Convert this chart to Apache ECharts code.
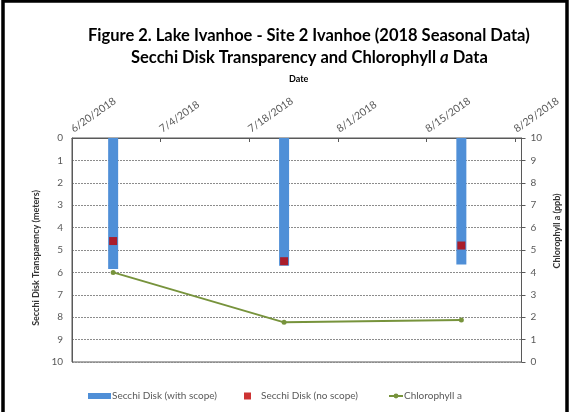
<!DOCTYPE html>
<html>
<head>
<meta charset="utf-8">
<script src="https://cdn.jsdelivr.net/npm/echarts@6/dist/echarts.min.js"></script>
<style>html,body{margin:0;padding:0;background:#fff;}#c{width:570px;height:412px;}</style>
</head>
<body>
<div id="c"></div>
<script>
// ---- data ----
var axisStart = '6/20/2018';
var tickLabels = ['6/20/2018','7/4/2018','7/18/2018','8/1/2018','8/15/2018','8/29/2018'];
var sampleDates = ['6/26/2018','7/23/2018','8/20/2018'];
var secchiWithScope = [5.85, 5.7, 5.65];
var secchiNoScope = [4.6, 5.5, 4.8];
var chlorophyll = [4.0, 1.77, 1.87];

function toUTC(s){var p=s.split('/');return Date.UTC(+p[2],+p[0]-1,+p[1]);}
var DAY=86400000;
function dayOff(s){return Math.round((toUTC(s)-toUTC(axisStart))/DAY);}
function fmt(v){var d=new Date(toUTC(axisStart)+v*DAY);return (d.getUTCMonth()+1)+'/'+d.getUTCDate()+'/'+d.getUTCFullYear();}
var tickVals = tickLabels.map(dayOff);
var xMax = tickVals[tickVals.length-1]+1;
function pts(vals){return sampleDates.map(function(d,i){return [dayOff(d)+0.5, vals[i]];});}

var gray='#595959';
var font='Lato, "Open Sans", sans-serif';
var chart = echarts.init(document.getElementById('c'), null, {renderer:'canvas'});
chart.setOption({
  animation:false,
  backgroundColor:'#fff',
  graphic:[
    {type:'rect',shape:{x:3,y:1,width:564,height:430},style:{fill:'none',stroke:'#000',lineWidth:3.5},silent:true},
    {type:'text',left:88,top:27,style:{text:'Figure 2. Lake Ivanhoe - Site 2 Ivanhoe (2018 Seasonal Data)',font:'bold 16.5px '+font,fill:'#000'}},
    {type:'text',left:131,top:49,style:{
      text:'{n|Secchi Disk Transparency and Chlorophyll }{i|a}{n| Data}',
      rich:{n:{font:'bold 16.5px '+font,fill:'#000'},i:{font:'italic bold 16.5px '+font,fill:'#000'}}
    }},
    {type:'text',left:289,top:75,style:{text:'Date',font:'bold 9px '+font,fill:'#000'}}
  ],
  grid:{left:72,right:48,top:138,bottom:50,show:true,borderColor:gray,borderWidth:1,backgroundColor:'transparent'},
  legend:[
    {data:['Secchi Disk (with scope)'],left:83,top:386,icon:'rect',itemWidth:23,itemHeight:6,textStyle:{fontFamily:font,fontSize:10,color:gray,padding:[0,0,0,-4]}},
    {data:['Secchi Disk (no scope)'],left:239,top:386,icon:'rect',itemWidth:7,itemHeight:7,textStyle:{fontFamily:font,fontSize:10,color:gray,padding:[0,0,0,5]}},
    {data:['Chlorophyll a'],left:383,top:386,itemWidth:14,itemHeight:6,textStyle:{fontFamily:font,fontSize:10,color:gray,padding:[0,0,0,-4]}}
  ],
  xAxis:{
    type:'value',position:'top',min:0,max:xMax,
    axisLine:{show:true,lineStyle:{color:gray}},
    axisTick:{show:true,inside:true,length:4,customValues:tickVals,lineStyle:{color:gray}},
    splitLine:{show:false},
    axisLabel:{customValues:tickVals,rotate:35,align:'left',verticalAlign:'middle',margin:8,fontFamily:font,fontSize:10.5,color:gray,formatter:function(v){return fmt(v);}}
  },
  yAxis:[
    {type:'value',inverse:true,min:0,max:10,interval:1,position:'left',
     name:'Secchi Disk Transparency (meters)',nameLocation:'middle',nameGap:27,
     nameTextStyle:{fontFamily:font,fontSize:9,fontWeight:'bold',color:'#333',padding:[0,16,0,0]},
     axisLine:{show:true,lineStyle:{color:gray}},axisTick:{show:false},
     axisLabel:{fontFamily:font,fontSize:10,color:gray,margin:9},
     splitLine:{show:true,lineStyle:{color:'#8c8c8c',type:[2,1]}}},
    {type:'value',min:0,max:10,interval:1,position:'right',
     name:'Chlorophyll a (ppb)',nameLocation:'middle',nameGap:31,
     nameTextStyle:{fontFamily:font,fontSize:9,fontWeight:'bold',color:'#333',padding:[0,0,0,38]},
     axisLine:{show:true,lineStyle:{color:gray}},axisTick:{show:true,length:4,lineStyle:{color:gray}},
     axisLabel:{fontFamily:font,fontSize:10,color:gray,margin:9},
     splitLine:{show:false}}
  ],
  series:[
    {name:'Secchi Disk (with scope)',type:'bar',xAxisIndex:0,yAxisIndex:0,barWidth:10,data:pts(secchiWithScope),itemStyle:{color:'#4f8fd7'},z:2},
    {name:'Secchi Disk (no scope)',type:'scatter',xAxisIndex:0,yAxisIndex:0,symbol:'rect',symbolSize:8,data:pts(secchiNoScope),itemStyle:{color:'#c00000'},z:4},
    {name:'Chlorophyll a',type:'line',xAxisIndex:0,yAxisIndex:1,symbol:'circle',symbolSize:5,data:pts(chlorophyll),lineStyle:{color:'#77933c',width:2},itemStyle:{color:'#77933c'},z:5}
  ]
});
</script>
</body>
</html>
